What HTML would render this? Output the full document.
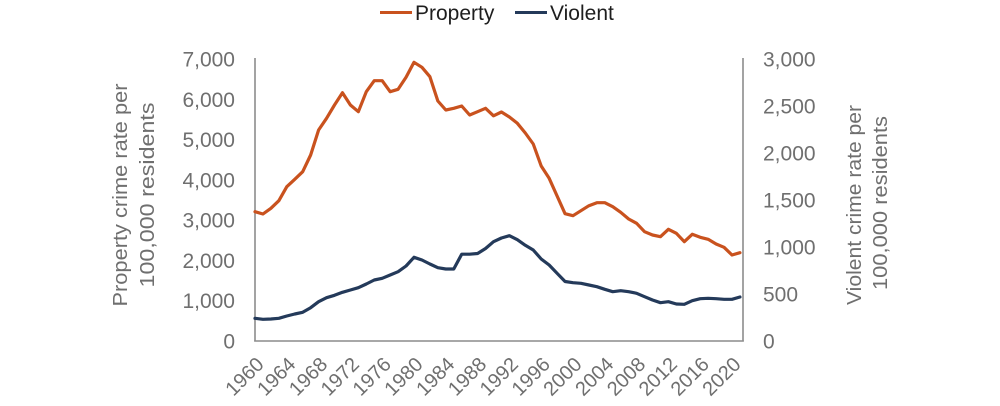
<!DOCTYPE html>
<html>
<head>
<meta charset="utf-8">
<style>
  html, body { margin: 0; padding: 0; background: #ffffff; }
  svg { display: block; }
  text { font-family: "Liberation Sans", Arial, sans-serif; }
</style>
</head>
<body>
<svg width="1000" height="406" viewBox="0 0 1000 406" xmlns="http://www.w3.org/2000/svg">
  <rect x="0" y="0" width="1000" height="406" fill="#ffffff"/>

  <!-- Legend -->
  <line x1="380" y1="12.5" x2="412" y2="12.5" stroke="#C9521E" stroke-width="3"/>
  <text x="415" y="20" font-size="21" fill="#1e1e1e">Property</text>
  <line x1="515" y1="12.5" x2="547" y2="12.5" stroke="#243A5A" stroke-width="3"/>
  <text x="550" y="20" font-size="21" fill="#1e1e1e">Violent</text>

  <!-- Axes -->
  <g stroke="#8c8c8c" stroke-width="1.6" fill="none">
    <line x1="255" y1="58" x2="255" y2="341.5"/>
    <line x1="254.2" y1="341" x2="743.8" y2="341"/>
    <line x1="743" y1="58" x2="743" y2="341.5"/>
  </g>

  <!-- Left tick labels -->
  <g font-size="21" fill="#6f6f6f" text-anchor="end">
    <text x="235" y="348.5">0</text>
    <text x="235" y="308.2">1,000</text>
    <text x="235" y="267.9">2,000</text>
    <text x="235" y="227.6">3,000</text>
    <text x="235" y="187.4">4,000</text>
    <text x="235" y="147.1">5,000</text>
    <text x="235" y="106.8">6,000</text>
    <text x="235" y="66.5">7,000</text>
  </g>

  <!-- Right tick labels -->
  <g font-size="21" fill="#6f6f6f" text-anchor="start">
    <text x="763" y="348.5">0</text>
    <text x="763" y="301.5">500</text>
    <text x="763" y="254.5">1,000</text>
    <text x="763" y="207.5">1,500</text>
    <text x="763" y="160.5">2,000</text>
    <text x="763" y="113.5">2,500</text>
    <text x="763" y="66.5">3,000</text>
  </g>

  <!-- Axis titles -->
  <g font-size="20" fill="#6f6f6f" text-anchor="middle">
    <text transform="translate(127,195) rotate(-90)" textLength="223" lengthAdjust="spacingAndGlyphs">Property crime rate per</text>
    <text transform="translate(154,195) rotate(-90)" textLength="185" lengthAdjust="spacingAndGlyphs">100,000 residents</text>
    <text transform="translate(861,205) rotate(-90)" textLength="200" lengthAdjust="spacingAndGlyphs">Violent crime rate per</text>
    <text transform="translate(887,203) rotate(-90)" textLength="174" lengthAdjust="spacingAndGlyphs">100,000 residents</text>
  </g>

  <!-- X tick labels -->
  <g font-size="20" fill="#6f6f6f" text-anchor="end">
    <text transform="translate(265,365.5) rotate(-45)">1960</text>
    <text transform="translate(296.8,365.5) rotate(-45)">1964</text>
    <text transform="translate(328.6,365.5) rotate(-45)">1968</text>
    <text transform="translate(360.4,365.5) rotate(-45)">1972</text>
    <text transform="translate(392.2,365.5) rotate(-45)">1976</text>
    <text transform="translate(424,365.5) rotate(-45)">1980</text>
    <text transform="translate(455.8,365.5) rotate(-45)">1984</text>
    <text transform="translate(487.6,365.5) rotate(-45)">1988</text>
    <text transform="translate(519.4,365.5) rotate(-45)">1992</text>
    <text transform="translate(551.2,365.5) rotate(-45)">1996</text>
    <text transform="translate(583,365.5) rotate(-45)">2000</text>
    <text transform="translate(614.8,365.5) rotate(-45)">2004</text>
    <text transform="translate(646.6,365.5) rotate(-45)">2008</text>
    <text transform="translate(678.4,365.5) rotate(-45)">2012</text>
    <text transform="translate(710.2,365.5) rotate(-45)">2016</text>
    <text transform="translate(742,365.5) rotate(-45)">2020</text>
  </g>

  <!-- Property series -->
  <polyline fill="none" stroke="#C9521E" stroke-width="3.2" stroke-linejoin="round" stroke-linecap="round"
    points="255,211.7 262.95,214 270.9,208.3 278.85,200.7 286.8,186.7 294.75,179.3 302.7,171.7 310.65,155 318.6,130 326.55,118.3 334.5,105 342.45,92.7 350.4,105 358.35,111.7 366.3,91.7 374.25,80.7 382.2,80.7 390.15,91.7 398.1,89.3 406.05,77.3 414,62.3 421.95,67.3 429.9,76.7 437.85,101 445.8,110 453.75,108.3 461.7,106 469.65,115 477.6,111.7 485.55,108.3 493.5,115.8 501.45,112 509.4,117 517.35,123.3 525.3,133 533.25,144 541.2,166 549.15,178.3 557.1,196 565.05,213.7 573,215.7 580.95,210.7 588.9,205.7 596.85,202.7 604.8,202.7 612.75,206.7 620.7,212.3 628.65,219 636.6,223.3 644.55,231.7 652.5,235 660.45,236.7 668.4,229.3 676.35,233.3 684.3,241.7 692.25,234.3 700.2,237.3 708.15,239.3 716.1,244 724.05,247.3 732,255 739.95,252.7"/>

  <!-- Violent series -->
  <polyline fill="none" stroke="#243A5A" stroke-width="3.2" stroke-linejoin="round" stroke-linecap="round"
    points="255,318.3 262.95,319.3 270.9,319 278.85,318.3 286.8,316 294.75,314 302.7,312.3 310.65,307.7 318.6,301.7 326.55,297.7 334.5,295.3 342.45,292.3 350.4,290 358.35,287.7 366.3,284 374.25,280 382.2,278.3 390.15,275 398.1,271.7 406.05,266 414,257.3 421.95,260 429.9,264 437.85,267.7 445.8,269 453.75,269 461.7,254.2 469.65,254.2 477.6,253.5 485.55,248.5 493.5,241.7 501.45,238 509.4,235.7 517.35,239.7 525.3,245.3 533.25,250 541.2,259 549.15,265 557.1,273.3 565.05,281.5 573,282.7 580.95,283.3 588.9,285 596.85,286.7 604.8,289.3 612.75,291.7 620.7,290.7 628.65,291.7 636.6,293.3 644.55,296.7 652.5,300 660.45,302.7 668.4,301.7 676.35,304 684.3,304.3 692.25,300.7 700.2,298.7 708.15,298.3 716.1,298.7 724.05,299.3 732,299.3 739.95,297"/>
</svg>
</body>
</html>
